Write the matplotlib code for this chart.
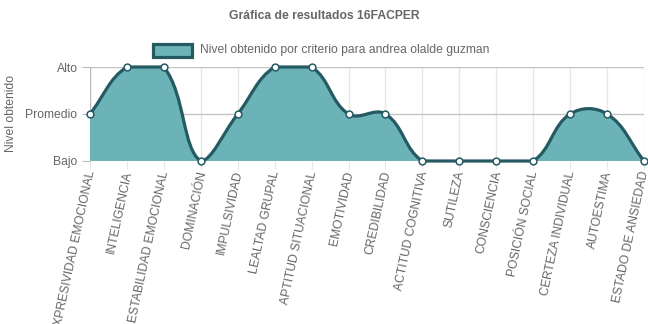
import matplotlib
matplotlib.use("Agg")
import matplotlib.pyplot as plt
import matplotlib.transforms as mtransforms
from matplotlib.path import Path
from matplotlib.patches import PathPatch, Rectangle

plt.rcParams['font.family'] = ['Liberation Sans', 'DejaVu Sans']

# Datos
categorias = ["EXPRESIVIDAD EMOCIONAL", "INTELIGENCIA", "ESTABILIDAD EMOCIONAL",
              "DOMINACIÓN", "IMPULSIVIDAD", "LEALTAD GRUPAL", "APTITUD SITUACIONAL",
              "EMOTIVIDAD", "CREDIBILIDAD", "ACTITUD COGNITIVA", "SUTILEZA",
              "CONSCIENCIA", "POSICIÓN SOCIAL", "CERTEZA INDIVIDUAL", "AUTOESTIMA",
              "ESTADO DE ANSIEDAD"]
valores = [1, 2, 2, 0, 1, 2, 2, 1, 1, 0, 0, 0, 0, 1, 1, 0]
niveles = ["Bajo", "Promedio", "Alto"]

titulo = "Gráfica de resultados 16FACPER"
leyenda = "Nivel obtenido por criterio para andrea olalde guzman"

COLOR_RELLENO = "#6cb3b7"
COLOR_LINEA = "#255a62"
GRIS = "#666666"

W, H = 648, 324
fig = plt.figure(figsize=(W / 100, H / 100), dpi=100)
x0, x1, y0, y1 = 90, 644, 67, 161  # area del grafico en pixeles
ax = fig.add_axes([x0 / W, 1 - y1 / H, (x1 - x0) / W, (y1 - y0) / H])

n = len(valores)
ax.set_xlim(0, n - 1)
ax.set_ylim(0, len(niveles) - 1)

# escala pixel por unidad, para la curva estilo Chart.js
sx = (x1 - x0) / (n - 1)
sy = (y1 - y0) / (len(niveles) - 1)


def controles(xs, ys, t=0.4):
    """Puntos de control bezier como en Chart.js (splineCurve + capBezierPoints)."""
    ctr = []
    for i in range(len(xs)):
        ip = max(i - 1, 0)
        inx = min(i + 1, len(xs) - 1)
        d01 = (((xs[i] - xs[ip]) * sx) ** 2 + ((ys[i] - ys[ip]) * sy) ** 2) ** 0.5
        d12 = (((xs[inx] - xs[i]) * sx) ** 2 + ((ys[inx] - ys[i]) * sy) ** 2) ** 0.5
        tot = d01 + d12
        s01 = d01 / tot if tot else 0
        s12 = d12 / tot if tot else 0
        dx, dy = xs[inx] - xs[ip], ys[inx] - ys[ip]
        prev = [xs[i] - t * s01 * dx, ys[i] - t * s01 * dy]
        nxt = [xs[i] + t * s12 * dx, ys[i] + t * s12 * dy]
        for p in (prev, nxt):
            p[0] = min(max(p[0], 0), n - 1)
            p[1] = min(max(p[1], 0), len(niveles) - 1)
        ctr.append((prev, nxt))
    return ctr


xs = list(range(n))
ctr = controles(xs, valores)
verts = [(xs[0], valores[0])]
codes = [Path.MOVETO]
for i in range(n - 1):
    verts += [tuple(ctr[i][1]), tuple(ctr[i + 1][0]), (xs[i + 1], valores[i + 1])]
    codes += [Path.CURVE4] * 3

relleno = verts + [(xs[-1], 0), (xs[0], 0), (xs[0], valores[0])]
codes_r = codes + [Path.LINETO, Path.LINETO, Path.CLOSEPOLY]
ax.add_patch(PathPatch(Path(relleno, codes_r), facecolor=COLOR_RELLENO,
                       edgecolor="none", zorder=2))
ax.add_patch(PathPatch(Path(verts, codes), facecolor="none", edgecolor=COLOR_LINEA,
                       linewidth=2.3, zorder=3, clip_on=False))
ax.scatter(xs, valores, s=24, facecolor="white", edgecolor=COLOR_LINEA,
           linewidth=1.1, zorder=4, clip_on=False)

# rejilla y ejes
ax.set_xticks(xs)
ax.set_yticks(range(len(niveles)))
ax.set_yticklabels(niveles, fontsize=8.7, color=GRIS)
ax.set_xticklabels(categorias, fontsize=8.7, color=GRIS, rotation=78,
                   ha="right", va="center_baseline", rotation_mode="anchor")
# corre las etiquetas 2 px a la izquierda para que la ultima no se corte
desplaza = mtransforms.ScaledTranslation(-2 / 100, 0, fig.dpi_scale_trans)
for lab in ax.get_xticklabels():
    lab.set_transform(lab.get_transform() + desplaza)
ax.tick_params(axis="x", length=6, color="#e6e6e6", pad=1)
ax.tick_params(axis="y", length=6, color="#bbbbbb", pad=3)
for i in xs:
    ax.axvline(i, color="#e6e6e6", linewidth=1, zorder=1)
for j in range(len(niveles)):
    ax.axhline(j, color="#c4c4c4", linewidth=1, zorder=1)
for s in ax.spines.values():
    s.set_visible(False)
ax.axvline(0, color="#bbbbbb", linewidth=1, zorder=1)

ax.set_ylabel("Nivel obtenido", fontsize=8.7, color=GRIS)
ax.yaxis.set_label_coords(-73 / (x1 - x0), 0.5)

fig.text(0.5, 1 - 16 / H, titulo, ha="center", va="center", fontsize=8.7,
         fontweight="bold", color=GRIS)

# leyenda
fig.patches.append(Rectangle((153 / W, 1 - 57 / H), 39 / W, 13 / H,
                             transform=fig.transFigure, facecolor=COLOR_RELLENO,
                             edgecolor=COLOR_LINEA, linewidth=2.3))
fig.text(200 / W, 1 - 50 / H, leyenda, ha="left", va="center", fontsize=8.7,
         color=GRIS)

fig.savefig("out.png", dpi=100)
